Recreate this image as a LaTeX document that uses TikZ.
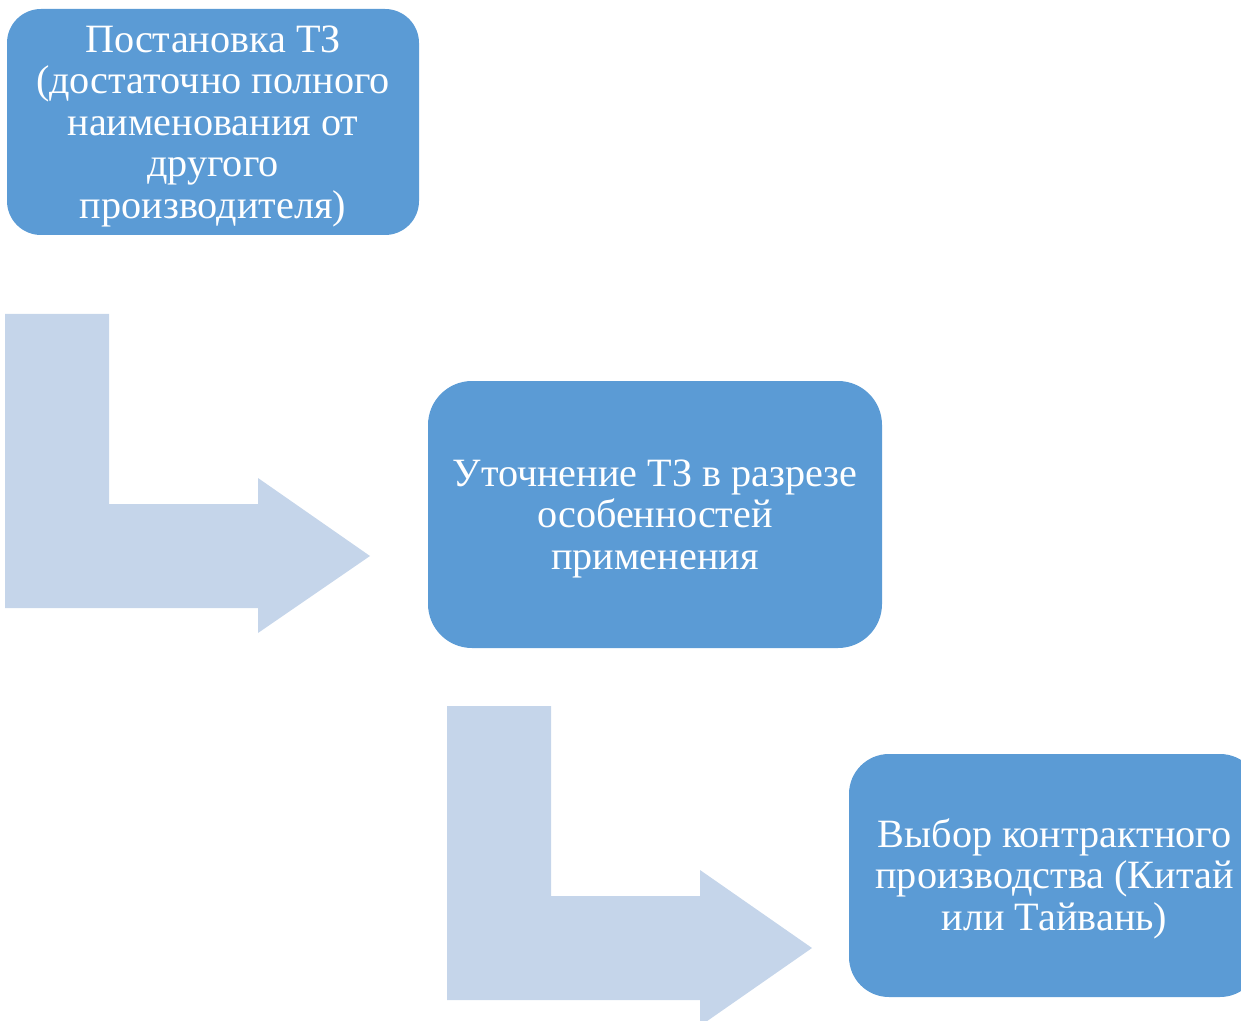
\documentclass[tikz,border=0pt]{standalone}
\usepackage{fontspec}
\setmainfont{Liberation Serif}
\definecolor{boxblue}{RGB}{91,155,213}
\definecolor{arrowblue}{RGB}{197,213,234}
\newcommand{\toppad}{\rule{0pt}{17.5pt}}
\tikzset{
    stage/.style={rectangle,rounded corners=17pt,fill=boxblue,text=white,
        align=center,inner sep=0pt,font=\fontsize{20.1}{20.75}\selectfont},
    bentarrow/.style={fill=arrowblue,draw=none}
}
\begin{document}
\begin{tikzpicture}[x=0.5pt,y=-0.5pt]
    \clip (0,0) rectangle (1241,1021);
    \node (tz) at (213,122) [stage,minimum width=206pt,minimum height=113pt]
        {\toppad Постановка ТЗ\\(достаточно полного\\наименования от\\другого\\производителя)};
    \node (refine) at (655,514.5) [stage,rounded corners=22pt,minimum width=227pt,minimum height=133.5pt]
        {\toppad Уточнение ТЗ в разрезе\\особенностей\\применения};
    \node (choice) at (1054.5,875.5) [stage,rounded corners=20pt,minimum width=205.5pt,minimum height=121.5pt]
        {\toppad Выбор контрактного\\производства (Китай\\или Тайвань)};
    \fill[bentarrow] (5,314) -- (109,314) -- (109,504) -- (258,504) -- (258,478)
        -- (370,556) -- (258,633) -- (258,608) -- (5,608) -- cycle;
    \fill[bentarrow] (447,706) -- (551,706) -- (551,896) -- (700,896) -- (700,870)
        -- (812,948) -- (700,1026) -- (700,1000) -- (447,1000) -- cycle;
\end{tikzpicture}
\end{document}
